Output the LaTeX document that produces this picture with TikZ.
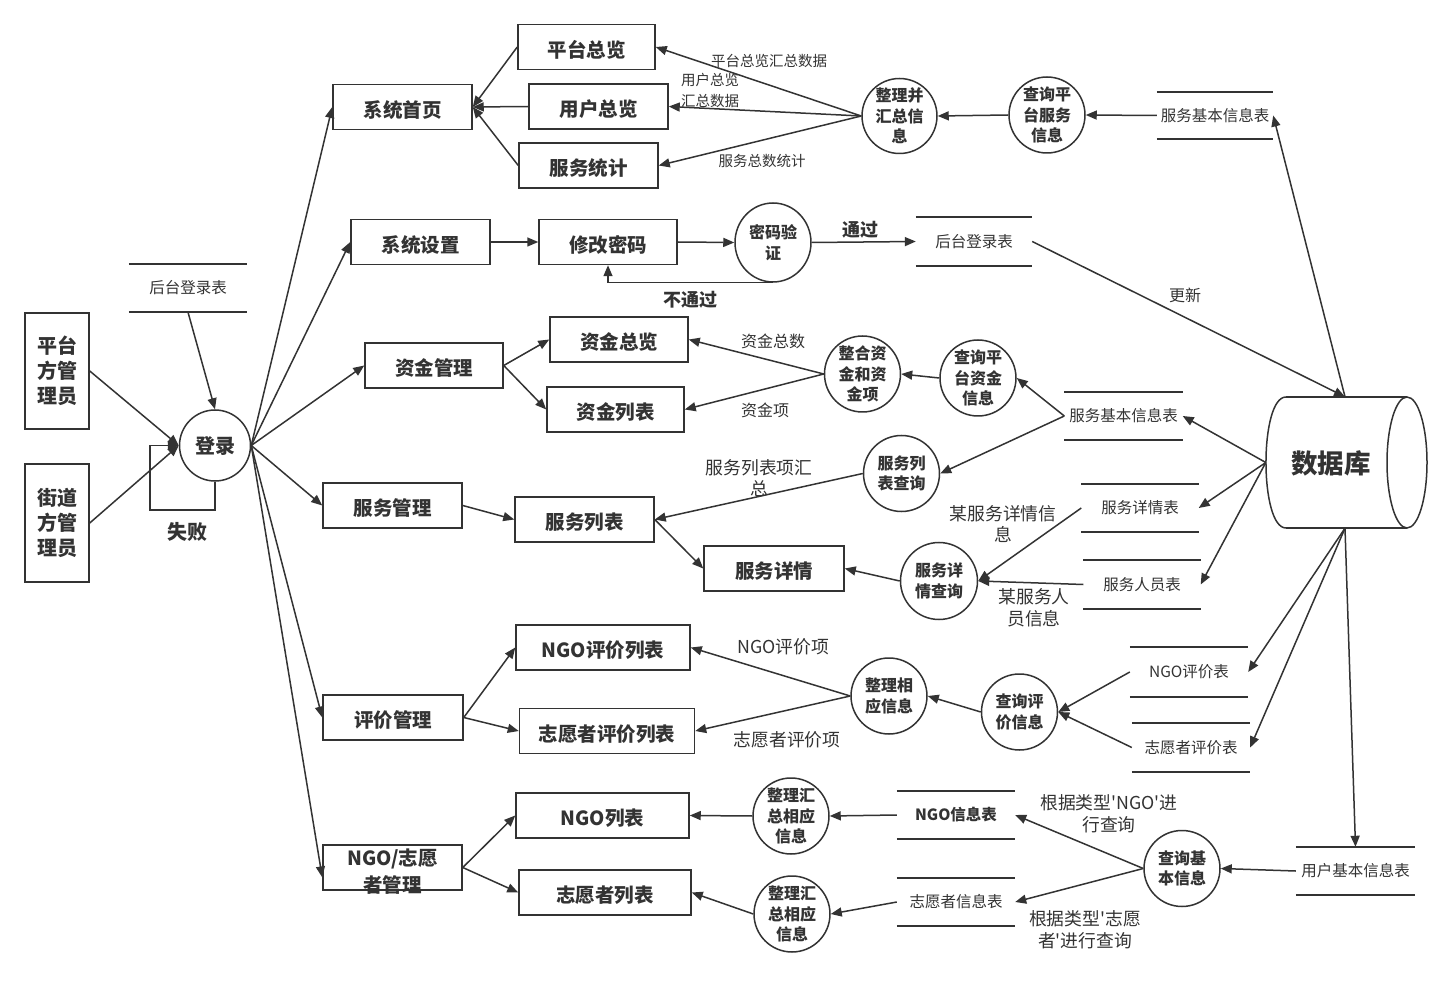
\documentclass[tikz,border=0pt]{standalone}
\usepackage{fontspec}
\setmainfont{Noto Sans CJK SC}
\usetikzlibrary{arrows.meta,shapes.geometric}
\definecolor{ink}{HTML}{333333}
\tikzset{
  ln/.style={draw=ink, line width=1.5pt},
  arr/.style={ln, -{Triangle[length=11pt,width=9pt]}},
  box/.style={ln, rectangle, inner sep=0pt, minimum width=139pt, minimum height=45pt, text=ink, align=center, font=\fontsize{19.5}{22}\selectfont\bfseries},
  boxt/.style={box, text height=23pt, text depth=2.5pt},
  adm/.style={box, minimum width=64pt, minimum height=116pt, font=\fontsize{20}{25}\selectfont\bfseries},
  proc/.style={ln, circle, inner sep=0pt, minimum size=76pt, align=center, text=ink, font=\fontsize{16}{20.5}\selectfont\bfseries},
  oval/.style={ln, ellipse, inner sep=0pt, minimum width=76pt, minimum height=79pt, align=center, text=ink, font=\fontsize{16}{20.5}\selectfont\bfseries},
  stline/.style={ln},
  store/.style={inner sep=0pt, minimum width=117pt, minimum height=48pt, text=ink, font=\fontsize{15.5}{18}\selectfont,
    append after command={(\tikzlastnode.north west) edge[stline] (\tikzlastnode.north east)
                          (\tikzlastnode.south west) edge[stline] (\tikzlastnode.south east)}},
  lab/.style={inner sep=0pt, align=center, text=ink, font=\fontsize{14.5}{21}\selectfont},
  labm/.style={lab, font=\fontsize{16}{21}\selectfont},
  labl/.style={lab, font=\fontsize{17.8}{21.5}\selectfont},
  blab/.style={inner sep=0pt, align=center, text=ink, font=\fontsize{18}{21}\selectfont\bfseries},
}
\begin{document}
\begin{tikzpicture}[x=1pt,y=-1pt]
\fill[white] (0,0) rectangle (1452,981);
\useasboundingbox (0,0) rectangle (1452,981);

% ---------- left ----------
\node[adm] (pa) at (57,371) {平台\\方管\\理员};
\node[adm, minimum height=118pt] (ja) at (57,523) {街道\\方管\\理员};
\node[store, minimum width=118pt] (ls) at (188,288) {后台登录表};
\node[proc, minimum size=71pt, font=\fontsize{20}{22}\selectfont\bfseries] (login) at (215,445.5) {登录};
\coordinate (fl1) at (150,510);
\node[blab, font=\fontsize{20}{22}\selectfont\bfseries] at (187,532) {失败};

% ---------- top: system home ----------
\node[boxt] (sh) at (402.5,107) {系统首页};
\node[boxt, minimum width=137pt] (pt) at (586.5,47) {平台总览};
\node[boxt] (yh) at (598.5,106.5) {用户总览};
\node[boxt] (fw) at (588.5,165.5) {服务统计};
\node[proc, minimum size=75pt] (zl) at (899.5,116) {整理并\\汇总信\\息};
\node[proc] (cx1) at (1047,115) {查询平\\台服务\\信息};
\node[store, minimum width=116pt, minimum height=47pt] (st1) at (1215,115.5) {服务基本信息表};

% ---------- settings ----------
\node[boxt] (ss) at (420.5,242) {系统设置};
\node[boxt, minimum width=138pt] (xg) at (608,242) {修改密码};
\node[oval] (mm) at (773,242.5) {密码验\\证};
\node[store, minimum width=116pt, minimum height=49pt] (st2) at (974,241.5) {后台登录表};

% ---------- funds ----------
\node[boxt, minimum width=138pt] (zj) at (434,365.5) {资金管理};
\node[boxt, minimum width=138pt] (zz) at (619,339.5) {资金总览};
\node[boxt, minimum width=137pt] (zl2) at (615.5,409.5) {资金列表};
\node[proc] (zh) at (862.5,374) {整合资\\金和资\\金项};
\node[proc] (cx2) at (978,378) {查询平\\台资金\\信息};
\node[store, minimum width=118pt] (st3) at (1123.5,416) {服务基本信息表};

% ---------- services ----------
\node[boxt] (fg) at (392.5,505.5) {服务管理};
\node[boxt] (fl) at (584.5,519.5) {服务列表};
\node[boxt, minimum width=140pt] (fx) at (774,568.5) {服务详情};
\node[proc] (flc) at (901.5,473.5) {服务列\\表查询};
\node[proc, minimum size=77pt] (fxc) at (939,581) {服务详\\情查询};
\node[store] (st4) at (1140,508) {服务详情表};
\node[store, minimum height=49pt] (st5) at (1142,584.5) {服务人员表};

% ---------- evaluation ----------
\node[boxt, minimum width=140pt] (pj) at (393,717.5) {评价管理};
\node[boxt, minimum width=174pt] (np) at (603,647.5) {NGO评价列表};
\node[boxt, minimum width=175pt] (zp) at (607,731) {志愿者评价列表};
\node[proc] (zx) at (889,696) {整理相\\应信息};
\node[proc] (cp) at (1019.5,712) {查询评\\价信息};
\node[store, minimum width=118pt, minimum height=50pt] (st6) at (1189,672) {NGO评价表};
\node[store, minimum width=118pt, minimum height=49pt] (st7) at (1191,747.5) {志愿者评价表};

% ---------- NGO / volunteers ----------
\node[box] (ng) at (392.5,867.5) {};
\node[inner sep=0pt, align=center, text=ink, font=\fontsize{19.5}{27}\selectfont\bfseries] at (392.5,872) {NGO/志愿\\者管理};
\node[boxt, minimum width=173pt] (nl) at (602.5,815.5) {NGO列表};
\node[boxt, minimum width=172pt] (zvl) at (605,892.5) {志愿者列表};
\node[proc] (c1) at (791,816) {整理汇\\总相应\\信息};
\node[proc] (c2) at (792,914) {整理汇\\总相应\\信息};
\node[store, minimum width=118pt, font=\fontsize{15.5}{18}\selectfont\bfseries] (st8) at (956,815) {NGO信息表};
\node[store, minimum width=118pt] (st9) at (956,902) {志愿者信息表};
\node[proc] (qb) at (1182,868.5) {查询基\\本信息};
\node[store, minimum width=119pt] (ub) at (1355.5,871) {用户基本信息表};

% ---------- database ----------
\node[inner sep=0pt, minimum width=158pt, minimum height=131pt] (db) at (1345,462.5) {};
\draw[ln] (1286,397) -- (1407,397) (1286,528) -- (1407,528);
\draw[ln] (1407,462.5) ellipse [x radius=20, y radius=65.5];
\draw[ln] (1286,397) .. controls (1259.3,397) and (1259.3,528) .. (1286,528);
\node[inner sep=0pt, text=ink, font=\fontsize{26.5}{30}\selectfont\bfseries] at (1331,463) {数据库};

% ---------- connectors: left ----------
\draw[arr] (pa.east) -- (login.west);
\draw[arr] (ja.east) -- (login.west);
\draw[arr] (ls.south) -- (login.north);
\draw[arr] (login.south) |- (fl1) |- (login.west);
\draw[arr] (login.east) -- (sh.west);
\draw[arr] (login.east) -- (ss.west);
\draw[arr] (login.east) -- (zj.west);
\draw[arr] (login.east) -- (fg.west);
\draw[arr] (login.east) -- (pj.west);
\draw[arr] (login.east) -- (ng.188);

% top
\draw[arr] (pt.west) -- (sh.east);
\draw[arr] (yh.west) -- (sh.east);
\draw[arr] (fw.west) -- (sh.east);
\draw[arr] (zl.west) -- (pt.east);
\draw[arr] (zl.west) -- (yh.east);
\draw[arr] (zl.west) -- (fw.east);
\draw[arr] (cx1.west) -- (zl.east);
\draw[arr] (st1.west) -- (cx1.east);
\draw[arr] (db.north) -- (st1.east);
\node[lab] at (769,61) {平台总览汇总数据};
\node[lab, align=left, anchor=west] at (681,90) {用户总览\\汇总数据};
\node[lab] at (762,161) {服务总数统计};

% settings
\draw[arr] (ss.east) -- (xg.west);
\draw[arr] (xg.east) -- (mm.west);
\draw[arr] (mm.east) -- (st2.west);
\draw[arr] (mm.south) -| (xg.south);
\draw[arr] (st2.east) -- (db.north);
\node[blab] at (860,230) {通过};
\node[blab] at (690,300) {不通过};
\node[labm] at (1185,295) {更新};

% funds
\draw[arr] (zj.east) -- (zz.west);
\draw[arr] (zj.east) -- (zl2.west);
\draw[arr] (zh.west) -- (zz.east);
\draw[arr] (zh.west) -- (zl2.east);
\draw[arr] (cx2.west) -- (zh.east);
\draw[arr] (st3.west) -- (cx2.east);
\draw[arr] (st3.west) -- (flc.east);
\draw[arr] (db.west) -- (st3.east);
\node[labm] at (773,341) {资金总数};
\node[labm] at (765,410) {资金项};

% services
\draw[arr] (fg.east) -- (fl.west);
\draw[arr] (fl.east) -- (fx.west);
\draw[arr] (flc.west) -- (fl.east);
\draw[arr] (fxc.west) -- (fx.east);
\draw[arr] (st4.west) -- (fxc.east);
\draw[arr] (st5.west) -- (fxc.east);
\draw[arr] (db.west) -- (st4.east);
\draw[arr] (db.west) -- (st5.east);
\node[labl] at (759,478) {服务列表项汇\\总};
\node[labl] at (1003,524) {某服务详情信\\息};
\node[labl] at (1034,608) {某服务人\\员信息};

% evaluation
\draw[arr] (pj.east) -- (np.west);
\draw[arr] (pj.east) -- (zp.west);
\draw[arr] (zx.west) -- (np.east);
\draw[arr] (zx.west) -- (zp.east);
\draw[arr] (cp.west) -- (zx.east);
\draw[arr] (st6.west) -- (cp.east);
\draw[arr] (st7.west) -- (cp.east);
\draw[arr] (db.south) -- (st6.east);
\draw[arr] (db.south) -- (st7.east);
\node[labl] at (783,647) {NGO评价项};
\node[labl] at (787,740) {志愿者评价项};

% NGO / volunteers
\draw[arr] (ng.east) -- (nl.west);
\draw[arr] (ng.east) -- (zvl.west);
\draw[arr] (c1.west) -- (nl.east);
\draw[arr] (c2.west) -- (zvl.east);
\draw[arr] (st8.west) -- (c1.east);
\draw[arr] (st9.west) -- (c2.east);
\draw[arr] (qb.west) -- (st8.east);
\draw[arr] (qb.west) -- (st9.east);
\draw[arr] (ub.west) -- (qb.east);
\draw[arr] (db.south) -- (ub.north);
\node[labl] at (1109,814) {根据类型\textquotesingle NGO\textquotesingle 进\\行查询};
\node[labl] at (1085,930) {根据类型\textquotesingle 志愿\\者\textquotesingle 进行查询};
\end{tikzpicture}
\end{document}
